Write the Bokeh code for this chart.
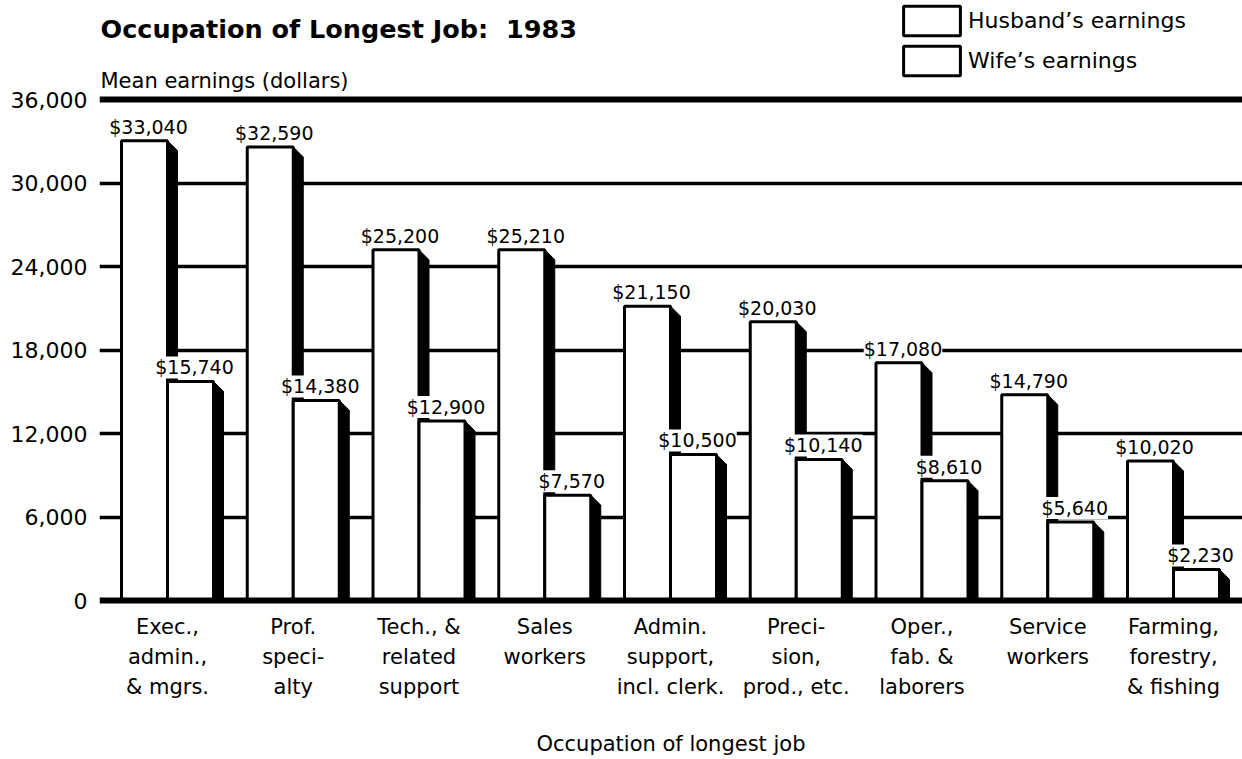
from bokeh.plotting import figure
from bokeh.models import (ColumnDataSource, FixedTicker, NumeralTickFormatter, Range1d,
                          LabelSet, Label, Span, Legend, LegendItem)
from bokeh.embed import file_html
from bokeh.resources import INLINE
from bokeh.core.properties import value

# ---------------- data ----------------
categories = [
    "Exec.,\nadmin.,\n& mgrs.",
    "Prof.\nspeci-\nalty",
    "Tech., &\nrelated\nsupport",
    "Sales\nworkers",
    "Admin.\nsupport,\nincl. clerk.",
    "Preci-\nsion,\nprod., etc.",
    "Oper.,\nfab. &\nlaborers",
    "Service\nworkers",
    "Farming,\nforestry,\n& fishing",
]
husband = [33040, 32590, 25200, 25210, 21150, 20030, 17080, 14790, 10020]
wife = [15740, 14380, 12900, 7570, 10500, 10140, 8610, 5640, 2230]
y_ticks = [0, 6000, 12000, 18000, 24000, 30000, 36000]
grid_ticks = [6000, 12000, 18000, 24000, 30000]

# ---------------- geometry ----------------
W, H = 1242, 759
FRAME_LEFT, FRAME_BOTTOM = 99, 606
XPX = 125.75            # px per category
YPX = 501 / 36000.0     # px per dollar
BAR_W = 46 / XPX
SDX = 10 / XPX
SDY = 10 / YPX

x0 = -BAR_W - 22 / XPX
x_range = Range1d(x0, x0 + (W - FRAME_LEFT) / XPX)
y_range = Range1d(-6 / YPX, 36000 + 99 / YPX)

FONT = "DejaVu Sans"

p = figure(width=W, height=H, x_range=x_range, y_range=y_range,
           output_backend="svg", toolbar_location=None,
           min_border_left=FRAME_LEFT, min_border_right=0,
           min_border_top=0, min_border_bottom=H - FRAME_BOTTOM)
p.outline_line_color = None
p.background_fill_color = "white"
p.border_fill_color = "white"

n = len(categories)
hx = [i - BAR_W / 2 for i in range(n)]
wx = [i + BAR_W / 2 for i in range(n)]


def shadows(centers, tops):
    xs, ys = [], []
    for c, t in zip(centers, tops):
        xr = c + BAR_W / 2
        xs.append([xr, xr + SDX, xr + SDX, xr])
        ys.append([t, t - SDY, 0, 0])
    return xs, ys


hsx, hsy = shadows(hx, husband)
wsx, wsy = shadows(wx, wife)

p.patches(hsx, hsy, fill_color="black", line_color="black", line_width=1)
r_h = p.vbar(x=hx, top=husband, bottom=0, width=BAR_W, fill_color="white",
             line_color="black", line_width=3)
p.patches(wsx, wsy, fill_color="black", line_color="black", line_width=1)
r_w = p.vbar(x=wx, top=wife, bottom=0, width=BAR_W, fill_color="white",
             line_color="black", line_width=3)

p.add_layout(Span(location=0, dimension="width", line_color="black", line_width=6))
p.add_layout(Span(location=36000, dimension="width", line_color="black", line_width=6))

# value labels
lab_src = ColumnDataSource(dict(
    x=hx + wx,
    y=husband + wife,
    text=["${:,}".format(v) for v in husband + wife],
))
labels = LabelSet(x="x", y="y", text="text", source=lab_src,
                  x_offset=4, y_offset=7, text_align="center",
                  text_baseline="alphabetic", text_font=value(FONT),
                  text_font_size=value("19px"), text_color="black",
                  background_fill_color="white")
if "padding" in labels.properties():
    labels.padding = 4
p.add_layout(labels)

# axes
p.yaxis.ticker = FixedTicker(ticks=y_ticks)
p.yaxis.formatter = NumeralTickFormatter(format="0,0")
p.yaxis.axis_line_color = None
p.yaxis.major_tick_out = 0
p.yaxis.major_tick_in = 0
p.yaxis.major_tick_line_color = None
p.yaxis.minor_tick_line_color = None
p.yaxis.major_label_standoff = 12
p.yaxis.major_label_text_font = FONT
p.yaxis.major_label_text_font_size = "22px"
p.yaxis.major_label_text_color = "black"

p.ygrid.ticker = FixedTicker(ticks=grid_ticks)
p.ygrid.grid_line_color = "black"
p.ygrid.grid_line_width = 3.5
p.xgrid.grid_line_color = None

p.xaxis.ticker = FixedTicker(ticks=list(range(n)))
p.xaxis.major_label_overrides = {i: categories[i] for i in range(n)}
p.xaxis.axis_line_color = None
p.xaxis.major_tick_line_color = None
p.xaxis.minor_tick_line_color = None
p.xaxis.major_label_standoff = 2
p.xaxis.major_label_text_font = FONT
p.xaxis.major_label_text_font_size = "21px"
p.xaxis.major_label_text_line_height = 1.26
p.xaxis.major_label_text_color = "black"
p.xaxis.axis_label = "Occupation of longest job"
p.xaxis.axis_label_text_font = FONT
p.xaxis.axis_label_text_font_style = "normal"
p.xaxis.axis_label_text_font_size = "21px"
p.xaxis.axis_label_text_color = "black"
p.xaxis.axis_label_standoff = 30

# texts
p.add_layout(Label(x=1, y=FRAME_BOTTOM - 28, x_units="screen", y_units="screen",
                   text="Occupation of Longest Job:\u00a0 1983", text_font=FONT,
                   text_font_style="bold", text_font_size="25.5px",
                   text_baseline="alphabetic", text_color="black"))
p.add_layout(Label(x=1, y=FRAME_BOTTOM - 80, x_units="screen", y_units="screen",
                   text="Mean earnings (dollars)", text_font=FONT,
                   text_font_size="21px", text_baseline="alphabetic",
                   text_color="black"))

legend = Legend(items=[LegendItem(label="Husband\u2019s earnings", renderers=[r_h]),
                       LegendItem(label="Wife\u2019s earnings", renderers=[r_w])],
                location=(797, 527), orientation="vertical",
                glyph_width=71, glyph_height=37, spacing=3, label_standoff=1,
                padding=0, margin=0, border_line_color=None,
                background_fill_alpha=0, label_text_font=FONT,
                label_text_font_size="22px", label_text_color="black")
p.add_layout(legend)

open("out.html", "w").write(file_html(p, INLINE))
